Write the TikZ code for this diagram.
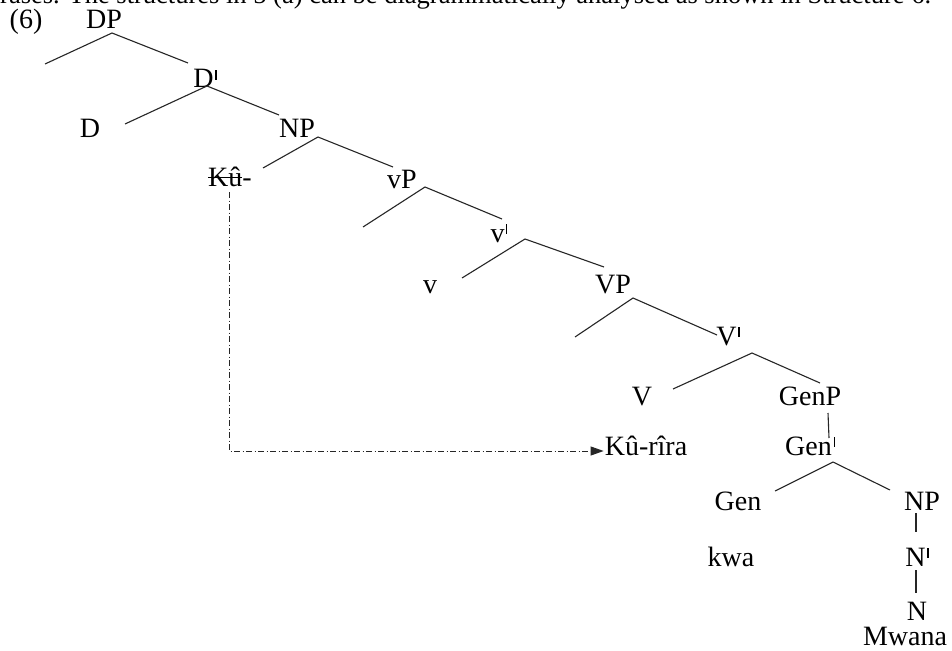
\documentclass[tikz,border=0pt]{standalone}
\usepackage{fontspec}
\setmainfont{Liberation Serif}
\usetikzlibrary{arrows.meta}
\newcommand\mystrike[1]{\setbox0\hbox{#1}\rlap{\rule[0.27em]{\wd0}{0.06em}}\box0}
\newcommand\pr{\kern0.06em\rule[0.3em]{0.045em}{0.36em}}
\tikzset{
  lbl/.style={anchor=base, inner sep=0pt, font=\fontsize{28}{32}\selectfont},
  br/.style={line width=1.1pt, black!85},
  trace/.style={line width=1pt, black!85, dash pattern=on 6pt off 2.5pt on 1pt off 2.5pt, -{Triangle[length=13pt,width=9pt]}}
}
\begin{document}
\begin{tikzpicture}[x=1pt,y=-1pt]
\clip (0,0) rectangle (952,650);
\fill[white] (0,0) rectangle (952,650);
\node[lbl, anchor=base west, font=\fontsize{26.5}{30}\selectfont] (top) at (0,4) {rases. The structures in 5 (a) can be diagrammatically analysed as shown in Structure 6.};
\node[lbl] (six) at (26,29) {(6)};
\node[lbl] (DP) at (104,29) {DP};
\node[lbl] (Dbar) at (205,88) {D\pr};
\node[lbl] (D) at (90,137) {D};
\node[lbl] (NP) at (297,137) {NP};
\node[lbl] (Ku) at (230,186) {\mystrike{Kû}-};
\node[lbl] (vP) at (402,188) {vP};
\node[lbl] (vbar) at (499,242) {v\pr};
\node[lbl] (v) at (430,293) {v};
\node[lbl] (VP) at (613,293) {VP};
\node[lbl] (Vbar) at (728,345) {V\pr};
\node[lbl] (V) at (642,405) {V};
\node[lbl] (GenP) at (810,405) {GenP};
\node[lbl] (Kurira) at (646,455) {Kû-rîra};
\node[lbl] (Genbar) at (810,455) {Gen\pr};
\node[lbl] (Gen) at (738,510) {Gen};
\node[lbl] (NPb) at (922,510) {NP};
\node[lbl] (kwa) at (731,566) {kwa};
\node[lbl] (Nbar) at (917,566) {N\pr};
\node[lbl] (N) at (917,620) {N};
\node[lbl] (Mwana) at (905,645) {Mwana};
% branch points and ends
\coordinate (aDP) at (112,33); \coordinate (lDP) at (45,64); \coordinate (rDP) at (188,63);
\coordinate (aD) at (207,86); \coordinate (lD) at (125,124); \coordinate (rD) at (279,115);
\coordinate (aNP) at (318,137); \coordinate (lNP) at (263,168); \coordinate (rNP) at (393,167);
\coordinate (avP) at (425,187); \coordinate (lvP) at (363,227); \coordinate (rvP) at (502,219);
\coordinate (av) at (525,239); \coordinate (lv) at (462,278); \coordinate (rv) at (604,267);
\coordinate (aVP) at (633,298); \coordinate (lVP) at (575,337); \coordinate (rVP) at (717,335);
\coordinate (aV) at (752,353); \coordinate (lV) at (673,389); \coordinate (rV) at (820,383);
\coordinate (tG) at (828,413); \coordinate (bG) at (829,438);
\coordinate (aGen) at (833,462); \coordinate (lGen) at (775,491); \coordinate (rGen) at (890,490);
\coordinate (tNP) at (916,513); \coordinate (bNP) at (916,532);
\coordinate (tN) at (916,570); \coordinate (bN) at (916,593);
\coordinate (ts) at (229,192); \coordinate (corner) at (229,451);
\draw[br] (lDP) -- (aDP) -- (rDP);
\draw[br] (lD) -- (aD) -- (rD);
\draw[br] (lNP) -- (aNP) -- (rNP);
\draw[br] (lvP) -- (avP) -- (rvP);
\draw[br] (lv) -- (av) -- (rv);
\draw[br] (lVP) -- (aVP) -- (rVP);
\draw[br] (lV) -- (aV) -- (rV);
\draw[br] (tG) -- (bG);
\draw[br] (lGen) -- (aGen) -- (rGen);
\draw[br] (tNP) -- (bNP);
\draw[br] (tN) -- (bN);
\draw[trace] (ts) -- (corner) -- ([xshift=-1pt]Kurira.west |- corner);
\end{tikzpicture}
\end{document}
